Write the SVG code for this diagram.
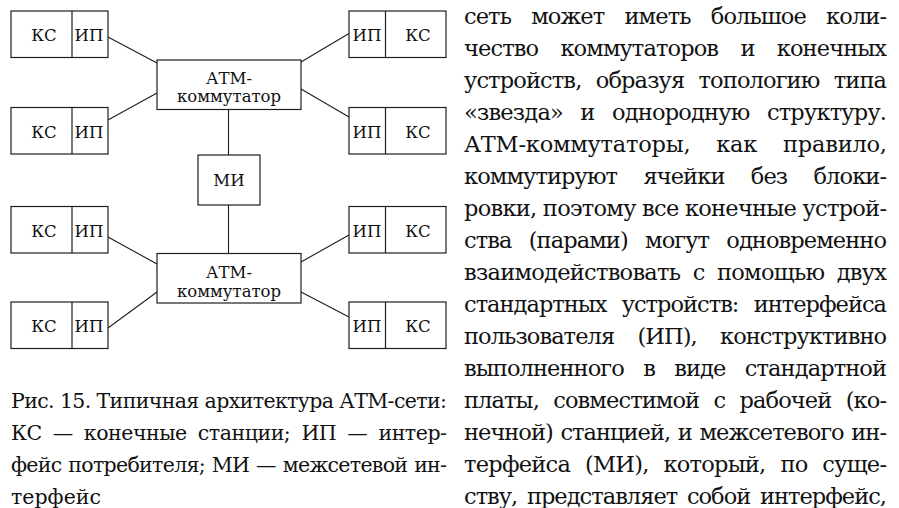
<svg xmlns="http://www.w3.org/2000/svg" width="899" height="508" viewBox="0 0 899 508">
  <style>
    .frame { fill: #fff; stroke: #1e1e1e; stroke-width: 1.2; }
    .div { stroke: #1e1e1e; stroke-width: 1.2; }
    .wire { stroke: #1e1e1e; stroke-width: 1.1; fill: none; }
    .lbl { font-family: 'DejaVu Serif', serif; font-size: 16.5px; fill: #111; text-anchor: middle; }
    .txt { font-family: 'DejaVu Serif', serif; font-size: 22.5px; fill: #111; }
    .cap { font-family: 'DejaVu Serif', serif; font-size: 20.5px; fill: #111; }
  </style>
  <rect width="899" height="508" fill="#fff"/>

  <!-- connectors -->
  <g id="connectors">
    <line class="wire" x1="108" y1="37" x2="157" y2="63"/>
    <line class="wire" x1="108" y1="120" x2="157" y2="93"/>
    <line class="wire" x1="301" y1="62" x2="349" y2="33.5"/>
    <line class="wire" x1="301" y1="89" x2="349" y2="117"/>
    <line class="wire" x1="228.5" y1="109.5" x2="228.5" y2="155"/>
    <line class="wire" x1="228.5" y1="205" x2="228.5" y2="253.5"/>
    <line class="wire" x1="108" y1="237" x2="157" y2="264"/>
    <line class="wire" x1="108" y1="328" x2="157" y2="292"/>
    <line class="wire" x1="301" y1="262" x2="349" y2="235"/>
    <line class="wire" x1="301" y1="292" x2="349" y2="317"/>
  </g>

  <!-- left stations: КС | ИП -->
  <g id="st-l1">
    <rect class="frame" x="11" y="11" width="97" height="46.5"/>
    <line class="div" x1="72" y1="11" x2="72" y2="57.5"/>
    <text class="lbl" x="44" y="41">КС</text>
    <text class="lbl" x="89" y="41">ИП</text>
  </g>
  <g id="st-l2">
    <rect class="frame" x="11" y="107.5" width="97" height="46.5"/>
    <line class="div" x1="72" y1="107.5" x2="72" y2="154"/>
    <text class="lbl" x="44" y="137.5">КС</text>
    <text class="lbl" x="89" y="137.5">ИП</text>
  </g>
  <g id="st-l3">
    <rect class="frame" x="11" y="206.5" width="97" height="46.5"/>
    <line class="div" x1="72" y1="206.5" x2="72" y2="253"/>
    <text class="lbl" x="44" y="236.5">КС</text>
    <text class="lbl" x="89" y="236.5">ИП</text>
  </g>
  <g id="st-l4">
    <rect class="frame" x="11" y="302" width="97" height="46.5"/>
    <line class="div" x1="72" y1="302" x2="72" y2="348.5"/>
    <text class="lbl" x="44" y="332">КС</text>
    <text class="lbl" x="89" y="332">ИП</text>
  </g>

  <!-- right stations: ИП | КС -->
  <g id="st-r1">
    <rect class="frame" x="349" y="11" width="97" height="46.5"/>
    <line class="div" x1="385.5" y1="11" x2="385.5" y2="57.5"/>
    <text class="lbl" x="367" y="41">ИП</text>
    <text class="lbl" x="418" y="41">КС</text>
  </g>
  <g id="st-r2">
    <rect class="frame" x="349" y="107.5" width="97" height="46.5"/>
    <line class="div" x1="385.5" y1="107.5" x2="385.5" y2="154"/>
    <text class="lbl" x="367" y="137.5">ИП</text>
    <text class="lbl" x="418" y="137.5">КС</text>
  </g>
  <g id="st-r3">
    <rect class="frame" x="349" y="206.5" width="97" height="46.5"/>
    <line class="div" x1="385.5" y1="206.5" x2="385.5" y2="253"/>
    <text class="lbl" x="367" y="236.5">ИП</text>
    <text class="lbl" x="418" y="236.5">КС</text>
  </g>
  <g id="st-r4">
    <rect class="frame" x="349" y="302" width="97" height="46.5"/>
    <line class="div" x1="385.5" y1="302" x2="385.5" y2="348.5"/>
    <text class="lbl" x="367" y="332">ИП</text>
    <text class="lbl" x="418" y="332">КС</text>
  </g>

  <!-- ATM switches and the internetwork interface -->
  <g id="atm-1">
    <rect class="frame" x="157" y="60" width="144" height="49.5"/>
    <text class="lbl" x="229" y="83.5">АТМ-</text>
    <text class="lbl" x="229" y="102">коммутатор</text>
  </g>
  <g id="mi">
    <rect class="frame" x="198" y="155" width="62" height="50"/>
    <text class="lbl" x="229" y="186">МИ</text>
  </g>
  <g id="atm-2">
    <rect class="frame" x="157" y="253.5" width="144" height="49.5"/>
    <text class="lbl" x="229" y="278">АТМ-</text>
    <text class="lbl" x="229" y="296.5">коммутатор</text>
  </g>

  <!-- figure caption -->
  <g id="caption" class="cap">
    <text x="11" y="407.5" textLength="436" lengthAdjust="spacing">Рис. 15. Типичная архитектура АТМ-сети:</text>
    <text x="11" y="439.5" textLength="436" lengthAdjust="spacing" style="word-spacing:5px">КС — конечные станции; ИП — интер-</text>
    <text x="11" y="471.5" textLength="436" lengthAdjust="spacing" style="word-spacing:1px">фейс потребителя; МИ — межсетевой ин-</text>
    <text x="11" y="503.5">терфейс</text>
  </g>

  <!-- running text column -->
  <g id="body" class="txt">
    <text x="464" y="24" textLength="423" lengthAdjust="spacing" style="word-spacing:14px">сеть может иметь большое коли-</text>
    <text x="464" y="56" textLength="423" lengthAdjust="spacing" style="word-spacing:16px">чество коммутаторов и конечных</text>
    <text x="464" y="88" textLength="423" lengthAdjust="spacing" style="word-spacing:8px">устройств, образуя топологию типа</text>
    <text x="464" y="120" textLength="423" lengthAdjust="spacing" style="word-spacing:11px">«звезда» и однородную структуру.</text>
    <text x="464" y="151.5" textLength="423" lengthAdjust="spacing" style="word-spacing:19px">АТМ-коммутаторы, как правило,</text>
    <text x="464" y="183.5" textLength="423" lengthAdjust="spacing" style="word-spacing:20px">коммутируют ячейки без блоки-</text>
    <text x="464" y="215.5" textLength="423" lengthAdjust="spacing">ровки, поэтому все конечные устрой-</text>
    <text x="464" y="247.5" textLength="423" lengthAdjust="spacing" style="word-spacing:11px">ства (парами) могут одновременно</text>
    <text x="464" y="279.5" textLength="423" lengthAdjust="spacing" style="word-spacing:6px">взаимодействовать с помощью двух</text>
    <text x="464" y="311.5" textLength="423" lengthAdjust="spacing" style="word-spacing:9px">стандартных устройств: интерфейса</text>
    <text x="464" y="343.5" textLength="423" lengthAdjust="spacing" style="word-spacing:17px">пользователя (ИП), конструктивно</text>
    <text x="464" y="375.5" textLength="423" lengthAdjust="spacing" style="word-spacing:13px">выполненного в виде стандартной</text>
    <text x="464" y="407.5" textLength="423" lengthAdjust="spacing" style="word-spacing:8px">платы, совместимой с рабочей (ко-</text>
    <text x="464" y="439.5" textLength="423" lengthAdjust="spacing" style="word-spacing:1.5px">нечной) станцией, и межсетевого ин-</text>
    <text x="464" y="471.5" textLength="423" lengthAdjust="spacing" style="word-spacing:8.5px">терфейса (МИ), который, по суще-</text>
    <text x="464" y="503.5" textLength="423" lengthAdjust="spacing" style="word-spacing:3.5px">ству, представляет собой интерфейс,</text>
  </g>
</svg>
